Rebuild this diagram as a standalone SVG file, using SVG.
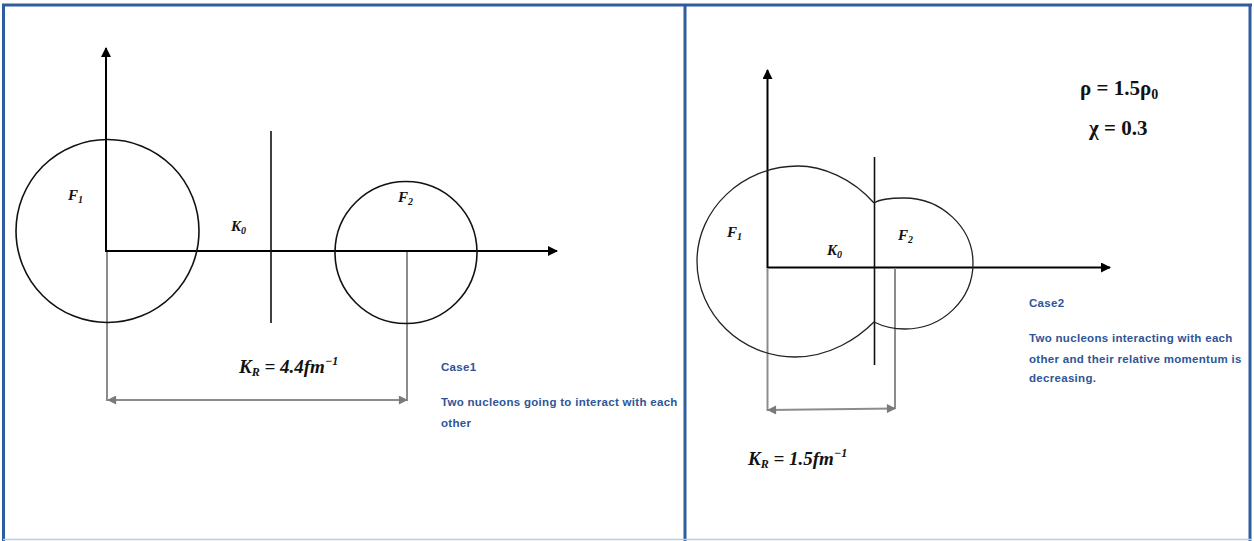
<svg xmlns="http://www.w3.org/2000/svg" width="1254" height="541" viewBox="0 0 1254 541">
<defs>
<style>
.frame{stroke:#2F5C9E;stroke-width:3;fill:none}
.axis{stroke:#000;stroke-width:2;fill:none}
.thin{stroke:#111;stroke-width:1.6;fill:none}
.blob{stroke:#222;stroke-width:1.3;fill:none}
.gray{stroke:#8C8C8C;stroke-width:2;fill:none}
.math{font-family:"Liberation Serif",serif;font-weight:bold;font-style:italic;fill:#111}
.mathu{font-family:"Liberation Serif",serif;font-weight:bold;fill:#111}
.note{font-family:"Liberation Sans",Arial,sans-serif;font-weight:bold;font-size:11.5px;letter-spacing:0.3px;fill:#2E5597}
</style>
<marker id="ah" viewBox="0 0 10 10" refX="9" refY="5" markerWidth="5" markerHeight="5" markerUnits="strokeWidth" orient="auto-start-reverse"><path d="M0,0 L10,5 L0,10 z" fill="#000"/></marker>
<marker id="ag" viewBox="0 0 10 10" refX="9" refY="5" markerWidth="5" markerHeight="4.5" markerUnits="strokeWidth" orient="auto-start-reverse"><path d="M0,0 L10,5 L0,10 z" fill="#7A7A7A"/></marker>
</defs>
<rect width="1254" height="541" fill="#fff"/>
<g id="frame">
<line class="frame" x1="2" y1="5" x2="1252" y2="5"/>
<line class="frame" x1="3.5" y1="5" x2="3.5" y2="541"/>
<line class="frame" x1="685" y1="5" x2="685" y2="541"/>
<line class="frame" x1="1250" y1="5" x2="1250" y2="541"/>
<line x1="3" y1="539.5" x2="1252" y2="539.5" stroke="#B8CCE4" stroke-width="1.5"/>
</g>
<g id="connectors">
<line class="axis" x1="106" y1="252" x2="106" y2="48" marker-end="url(#ah)"/>
<line class="axis" x1="106" y1="251" x2="557" y2="251" marker-end="url(#ah)"/>
<line class="gray" x1="107" y1="252" x2="107" y2="401"/>
<line class="gray" x1="407" y1="252" x2="407" y2="401"/>
<line class="gray" x1="108" y1="400" x2="407" y2="400" marker-start="url(#ag)" marker-end="url(#ag)"/>
<line class="axis" x1="767.5" y1="268" x2="767.5" y2="70" marker-end="url(#ah)"/>
<line class="axis" x1="767" y1="267.5" x2="1110" y2="267.5" marker-end="url(#ah)"/>
<line class="gray" x1="767.5" y1="268" x2="767.5" y2="411"/>
<line class="gray" x1="895" y1="268" x2="895" y2="409"/>
<line class="gray" x1="768" y1="410" x2="895" y2="408.5" marker-start="url(#ag)" marker-end="url(#ag)"/>
</g>
<g id="left-F1"><circle class="thin" cx="107.5" cy="231" r="91.5"/></g>
<g id="left-K0"><line class="thin" x1="271" y1="131" x2="271" y2="323"/></g>
<g id="left-F2"><circle class="thin" cx="406" cy="252.5" r="71"/></g>
<g id="right-K0"><line class="thin" x1="874.5" y1="157" x2="874.5" y2="365"/></g>
<g id="right-F1"><path class="blob" d="M874,203 C852,178 822,166 798,166 C742,166 697,210 697,261 C697,315 742,357 795,357 C830,357 858,338 874,322"/></g>
<g id="right-F2"><path class="blob" d="M874,203 C880,199 892,198 904,198 C942,198 973,228 973,263 C973,300 942,329 905,329 C890,329 880,325 874,322"/></g>
<g id="labels">
<text class="math" x="68" y="200" font-size="15">F<tspan font-size="10" dy="3">1</tspan></text>
<text class="math" x="231" y="231" font-size="15">K<tspan font-size="10" dy="3">0</tspan></text>
<text class="math" x="398" y="202" font-size="15">F<tspan font-size="10" dy="3">2</tspan></text>
<text class="math" x="239" y="373" font-size="19">K<tspan font-size="12" dy="3">R</tspan><tspan class="mathu" dy="-3"> = </tspan><tspan>4.4fm</tspan><tspan font-size="12" dy="-8">−1</tspan></text>
<text class="note" x="441" y="371">Case1</text>
<text class="note" x="441" y="406">Two nucleons going to interact with each</text>
<text class="note" x="441" y="427">other</text>
<text class="math" x="727" y="237" font-size="15">F<tspan font-size="10" dy="3">1</tspan></text>
<text class="math" x="827" y="255" font-size="15">K<tspan font-size="10" dy="3">0</tspan></text>
<text class="math" x="898" y="240" font-size="15">F<tspan font-size="10" dy="3">2</tspan></text>
<text class="math" x="748" y="465" font-size="19">K<tspan font-size="12" dy="3">R</tspan><tspan class="mathu" dy="-3"> = </tspan><tspan>1.5fm</tspan><tspan font-size="12" dy="-8">−1</tspan></text>
<text class="mathu" x="1080" y="95" font-size="21">ρ = 1.5ρ<tspan font-size="14" dy="4">0</tspan></text>
<text class="mathu" x="1089" y="135" font-size="21">χ = 0.3</text>
<text class="note" x="1029" y="307">Case2</text>
<text class="note" x="1029" y="342">Two nucleons interacting with each</text>
<text class="note" x="1029" y="363">other and their relative momentum is</text>
<text class="note" x="1029" y="382">decreasing.</text>
</g>
</svg>
